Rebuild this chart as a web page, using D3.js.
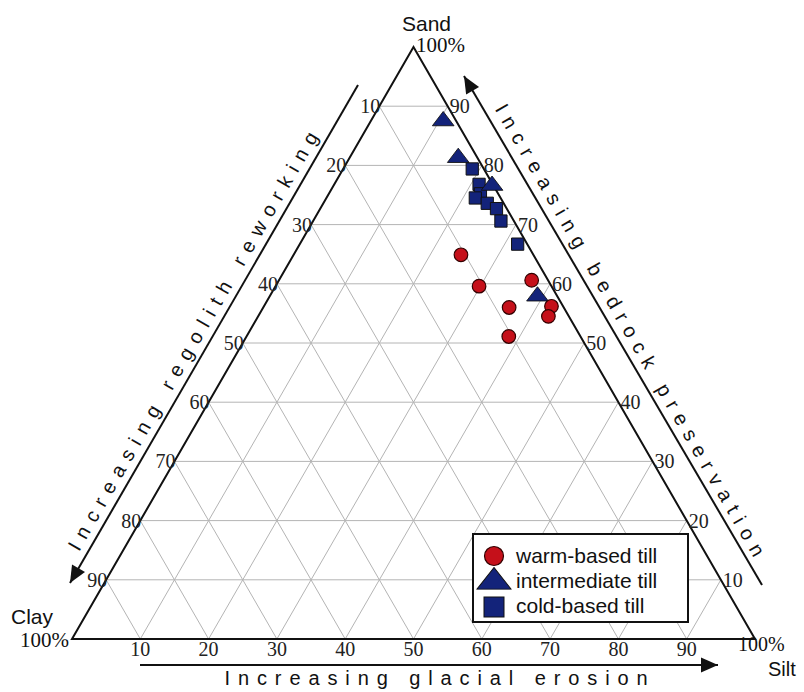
<!DOCTYPE html>
<html>
<head>
<meta charset="utf-8">
<script src="https://cdn.jsdelivr.net/npm/d3@7"></script>
<style>
  body { margin: 0; background: #fff; }
  svg { display: block; }
</style>
</head>
<body>
<div id="chart"></div>
<script>
// ---- data (sand, silt, clay in %) ----
const ticks = [10, 20, 30, 40, 50, 60, 70, 80, 90];

const warmSand = [64.9, 59.6, 60.6, 56.2, 54.5, 56.0, 51.1];
const warmSilt = [24.5, 29.8, 37.0, 42.1, 42.5, 36.0, 38.4];
const warmClay = [10.6, 10.6, 2.4, 1.7, 3.0, 8.0, 10.5];

const interSand = [87.5, 81.3, 76.6, 57.9];
const interSilt = [10.6, 15.9, 23.2, 39.2];
const interClay = [1.9, 2.8, 0.2, 2.9];

const coldSand = [79.4, 76.8, 75.2, 74.5, 73.6, 72.7, 70.6, 66.7];
const coldSilt = [18.9, 21.2, 22.2, 21.8, 24.0, 25.8, 27.5, 31.9];
const coldClay = [1.7, 2.0, 2.5, 3.7, 2.4, 1.5, 1.9, 1.4];

const legendLabels = ["warm-based till", "intermediate till", "cold-based till"];

const width = 804, height = 692;
const serif = "Liberation Serif, Times New Roman, serif";
const sans = "Liberation Sans, Arial, sans-serif";

const svg = d3.select("#chart").append("svg")
  .attr("width", width).attr("height", height);

// triangle geometry: clay corner left, silt corner right, sand apex
const x0 = 72, baseY = 639, side = 683;
const ySand = d3.scaleLinear().domain([0, 100]).range([baseY, 47]);
const xSide = d3.scaleLinear().domain([0, 100]).range([0, side]);

function proj(sand, silt) {
  return [x0 + xSide(silt) + xSide(sand) / 2, ySand(sand)];
}

// gridlines
const grid = svg.append("g").attr("stroke", "#b4b4b4").attr("stroke-width", 1).attr("fill", "none");
ticks.forEach(v => {
  // constant sand
  grid.append("line").datum([proj(v, 0), proj(v, 100 - v)])
    .attr("x1", d => d[0][0]).attr("y1", d => d[0][1]).attr("x2", d => d[1][0]).attr("y2", d => d[1][1]);
  // constant clay
  grid.append("line").datum([proj(100 - v, 0), proj(0, 100 - v)])
    .attr("x1", d => d[0][0]).attr("y1", d => d[0][1]).attr("x2", d => d[1][0]).attr("y2", d => d[1][1]);
  // constant silt
  grid.append("line").datum([proj(100 - v, v), proj(0, v)])
    .attr("x1", d => d[0][0]).attr("y1", d => d[0][1]).attr("x2", d => d[1][0]).attr("y2", d => d[1][1]);
});

// outline
svg.append("path")
  .attr("d", d3.line()([proj(100, 0), proj(0, 0), proj(0, 100)]) + "Z")
  .attr("fill", "none").attr("stroke", "#111").attr("stroke-width", 2)
  .attr("stroke-linejoin", "miter");

// tick labels
const tickG = svg.append("g").attr("font-family", serif).attr("font-size", 20).attr("fill", "#222");
ticks.forEach(v => {
  // left edge: clay %
  const pl = proj(100 - v, 0);
  tickG.append("text").attr("x", pl[0] + 1).attr("y", pl[1] + 7).attr("text-anchor", "end").text(v);
  // right edge: sand %
  const pr = proj(v, 100 - v);
  tickG.append("text").attr("x", pr[0] + 2).attr("y", pr[1] + 7).attr("text-anchor", "start").text(v);
  // bottom: silt %
  const pb = proj(0, v);
  tickG.append("text").attr("x", pb[0]).attr("y", pb[1] + 17).attr("text-anchor", "middle").text(v);
});

// corner labels
const corners = svg.append("g").attr("fill", "#111").attr("font-size", 21);
corners.append("text").attr("x", 402).attr("y", 31).attr("font-family", sans).text("Sand");
corners.append("text").attr("x", 416).attr("y", 52).attr("font-family", serif).text("100%");
corners.append("text").attr("x", 11).attr("y", 624).attr("font-family", sans).text("Clay");
corners.append("text").attr("x", 20).attr("y", 647).attr("font-family", serif).text("100%");
corners.append("text").attr("x", 768).attr("y", 676).attr("font-family", sans).attr("font-size", 20).text("Silt");
corners.append("text").attr("x", 738).attr("y", 651).attr("font-family", serif).attr("font-size", 20).text("100%");

// axis arrows
function arrow(x1, y1, x2, y2) {
  svg.append("line").attr("x1", x1).attr("y1", y1).attr("x2", x2).attr("y2", y2)
    .attr("stroke", "#111").attr("stroke-width", 2);
  const a = Math.atan2(y2 - y1, x2 - x1);
  const L = 17, W = 7.5;
  const bx = x2 - L * Math.cos(a), by = y2 - L * Math.sin(a);
  const pts = [[x2, y2],
    [bx + W * Math.sin(a), by - W * Math.cos(a)],
    [bx - W * Math.sin(a), by + W * Math.cos(a)]];
  svg.append("path").attr("d", d3.line()(pts) + "Z").attr("fill", "#111");
}
arrow(358, 85, 70, 583);
arrow(762, 585, 464, 76);
arrow(140, 665, 718, 665);

// axis titles
const titleG = svg.append("g").attr("font-family", sans).attr("font-size", 20).attr("fill", "#111");
titleG.append("text").attr("text-anchor", "middle")
  .attr("transform", "translate(201,341) rotate(-60)")
  .attr("letter-spacing", 8).text("Increasing regolith reworking");
titleG.append("text").attr("text-anchor", "middle")
  .attr("transform", "translate(626,337) rotate(60)")
  .attr("letter-spacing", 7.8).text("Increasing bedrock preservation");
titleG.append("text").attr("text-anchor", "middle")
  .attr("transform", "translate(440,685)")
  .attr("letter-spacing", 7.9).text("Increasing glacial erosion");

// data points
const red = "#c5101a", navy = "#13237a";
const triSmall = d3.symbol().type(d3.symbolTriangle).size(130);
const sqSmall = d3.symbol().type(d3.symbolSquare).size(150);

const warm = warmSand.map((s, i) => ({ sand: s, silt: warmSilt[i], clay: warmClay[i] }));
const inter = interSand.map((s, i) => ({ sand: s, silt: interSilt[i], clay: interClay[i] }));
const cold = coldSand.map((s, i) => ({ sand: s, silt: coldSilt[i], clay: coldClay[i] }));

svg.append("g").selectAll("path").data(cold).enter().append("path")
  .attr("d", sqSmall)
  .attr("transform", d => `translate(${proj(d.sand, d.silt)})`)
  .attr("fill", navy).attr("stroke", "#111").attr("stroke-width", 1);

svg.append("g").selectAll("path").data(inter).enter().append("path")
  .attr("d", triSmall)
  .attr("transform", d => `translate(${proj(d.sand, d.silt)}) scale(1.25,0.95)`)
  .attr("fill", navy).attr("stroke", "#111").attr("stroke-width", 0.8);

svg.append("g").selectAll("circle").data(warm).enter().append("circle")
  .attr("cx", d => proj(d.sand, d.silt)[0])
  .attr("cy", d => proj(d.sand, d.silt)[1])
  .attr("r", 6.8)
  .attr("fill", red).attr("stroke", "#300").attr("stroke-width", 1.2);

// legend
const lg = svg.append("g");
lg.append("rect").attr("x", 473).attr("y", 534).attr("width", 215).attr("height", 88)
  .attr("fill", "#fff").attr("stroke", "#111").attr("stroke-width", 2);
lg.append("circle").attr("cx", 494).attr("cy", 556).attr("r", 9.5)
  .attr("fill", red).attr("stroke", "#300").attr("stroke-width", 1.2);
lg.append("path").attr("d", d3.symbol().type(d3.symbolTriangle).size(300))
  .attr("transform", "translate(494,582) scale(1.3,0.95)")
  .attr("fill", navy).attr("stroke", "#111").attr("stroke-width", 0.8);
lg.append("rect").attr("x", 484).attr("y", 597).attr("width", 20).attr("height", 20)
  .attr("fill", navy).attr("stroke", "#111").attr("stroke-width", 1);
legendLabels.forEach((t, i) => {
  lg.append("text").attr("x", 516).attr("y", 563 + i * 25)
    .attr("font-family", sans).attr("font-size", 21).attr("fill", "#111").text(t);
});
</script>
</body>
</html>
